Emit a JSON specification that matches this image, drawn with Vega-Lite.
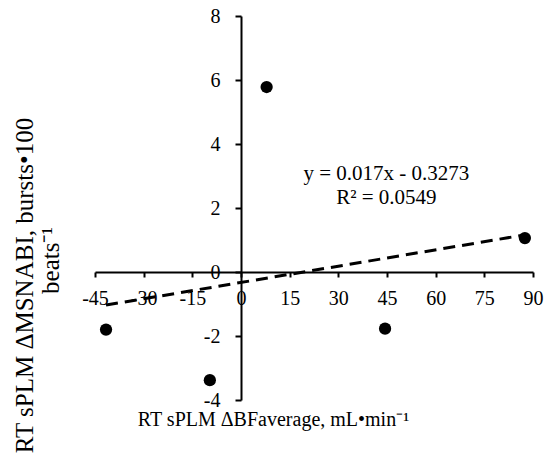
{
  "$schema": "https://vega.github.io/schema/vega-lite/v6.json",
  "width": 438,
  "height": 384,
  "autosize": {"type": "none"},
  "padding": {"left": 95, "top": 16, "right": 16, "bottom": 66},
  "background": "white",
  "config": {"view": {"stroke": null}, "font": "Liberation Serif"},
  "layer": [
    {
      "data": {"values": [
        {"bf": -41.6, "msna": -1.80},
        {"bf": -9.6, "msna": -3.38},
        {"bf": 7.9, "msna": 5.78},
        {"bf": 44.4, "msna": -1.77},
        {"bf": 87.5, "msna": 1.06}
      ]},
      "mark": {"type": "point", "filled": true, "color": "black", "size": 150, "opacity": 1},
      "encoding": {
        "x": {
          "field": "bf", "type": "quantitative",
          "scale": {"domain": [-45, 90], "nice": false, "zero": false},
          "axis": {
            "orient": "bottom", "offset": -128, "grid": false,
            "values": [-45, -37.5, -30, -22.5, -15, -7.5, 0, 7.5, 15, 22.5, 30, 37.5, 45, 52.5, 60, 67.5, 75, 82.5, 90],
            "labelExpr": "datum.value % 15 === 0 ? toString(datum.value) : ''",
            "domainColor": "black", "domainWidth": 2, "tickColor": "black", "tickWidth": 2, "tickSize": 5,
            "labelFont": "Liberation Serif", "labelFontSize": 20, "labelColor": "black", "labelPadding": 11,
            "labelFlush": false, "labelOverlap": false,
            "title": "RT sPLM ΔBFaverage, mL•min⁻¹",
            "titleFont": "Liberation Serif", "titleFontSize": 20, "titleFontWeight": "normal", "titleColor": "black",
            "titleX": 178, "titleY": 147, "titleBaseline": "middle", "titleAlign": "center"
          }
        },
        "y": {
          "field": "msna", "type": "quantitative",
          "scale": {"domain": [-4, 8], "nice": false, "zero": false},
          "axis": {
            "orient": "left", "offset": -146, "grid": false,
            "values": [-4, -3, -2, -1, 0, 1, 2, 3, 4, 5, 6, 7, 8],
            "labelExpr": "datum.value % 2 === 0 ? toString(datum.value) : ''",
            "domainColor": "black", "domainWidth": 2, "tickColor": "black", "tickWidth": 2, "tickSize": 6,
            "labelFont": "Liberation Serif", "labelFontSize": 20, "labelColor": "black", "labelPadding": 15,
            "labelFlush": false, "labelOverlap": false,
            "title": "RT sPLM ΔMSNABI, bursts•100",
            "titleFont": "Liberation Serif", "titleFontSize": 25, "titleFontWeight": "normal", "titleColor": "black",
            "titleAngle": -90, "titleX": -217, "titleY": 269, "titleBaseline": "middle", "titleAlign": "center"
          }
        }
      }
    },
    {
      "data": {"values": [
        {"bf": -41.6, "msna": -1.034},
        {"bf": 87.5, "msna": 1.160}
      ]},
      "mark": {"type": "line", "strokeDash": [12, 7], "strokeWidth": 3, "color": "black"},
      "encoding": {
        "x": {"field": "bf", "type": "quantitative"},
        "y": {"field": "msna", "type": "quantitative"}
      }
    },
    {
      "data": {"values": [{}]},
      "mark": {"type": "text", "font": "Liberation Serif", "fontSize": 21, "align": "center", "baseline": "middle", "lineHeight": 24, "color": "black"},
      "encoding": {
        "x": {"datum": 44.8},
        "y": {"datum": 3.07},
        "text": {"value": ["y = 0.017x - 0.3273", "R² = 0.0549"]}
      }
    },
    {
      "data": {"values": [{}]},
      "mark": {"type": "text", "font": "Liberation Serif", "fontSize": 25, "align": "center", "baseline": "middle", "angle": 270, "color": "black"},
      "encoding": {
        "x": {"datum": -58.6},
        "y": {"datum": 0.36},
        "text": {"value": "beats⁻¹"}
      }
    }
  ]
}
